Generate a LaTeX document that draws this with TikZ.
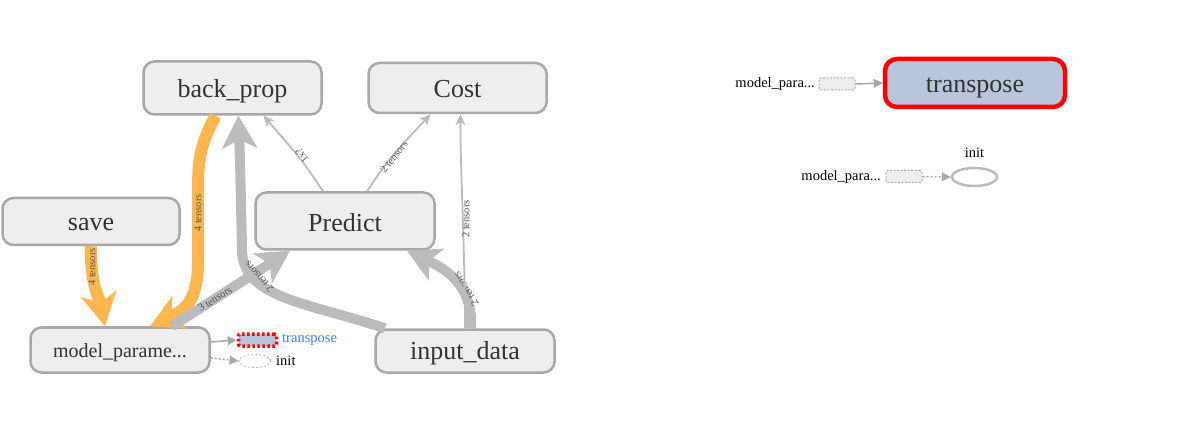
\documentclass[tikz,border=0pt]{standalone}
\usepackage{fontspec}
\setmainfont{Liberation Serif}
\usetikzlibrary{arrows.meta,shapes.geometric}
\definecolor{nfill}{HTML}{EEEEEE}
\definecolor{nborder}{HTML}{A8A8A8}
\definecolor{ntext}{HTML}{333333}
\definecolor{eorange}{HTML}{FFB64F}
\definecolor{egray}{HTML}{BBBBBB}
\definecolor{lgray}{HTML}{555555}
\definecolor{tfill}{HTML}{B9C5DD}
\definecolor{tblue}{HTML}{3C7EF0}
\begin{document}
\begin{tikzpicture}[x=1pt,y=-1pt,
  mainbox/.style={draw=nborder, line width=2.5pt, fill=nfill, rounded corners=11pt,
    inner sep=0pt, text=ntext, font=\fontsize{26}{30}\selectfont, text depth=0pt, text height=20pt},
  bigtip/.style={-{Stealth[length=33pt,width=36pt,inset=9pt,line width=0pt]}},
  smalltip/.style={-{Stealth[length=11pt,width=10pt,inset=3pt,line width=0pt]}},
  tritip/.style={-{Triangle[length=9pt,width=9pt,line width=0pt]}},
  oedge/.style={draw=eorange, line width=12pt, bigtip},
  gedge/.style={draw=egray, line width=10pt, bigtip},
  tedge/.style={draw=egray, line width=1.8pt, smalltip},
  elabel/.style={text=lgray, font=\fontsize{10.5}{12}\selectfont, inner sep=0pt},
  slabel/.style={text=black, font=\fontsize{14.5}{16}\selectfont, inner sep=0pt},
  stub/.style={draw=nborder, dashed, dash pattern=on 2pt off 1.5pt, line width=1pt, fill=nfill,
    rounded corners=2pt, minimum width=36pt, minimum height=12pt, inner sep=0pt},
]
\useasboundingbox (0,0) rectangle (1185,435);

% ---------- main graph nodes ----------
\node[mainbox, minimum width=178pt, minimum height=53pt] (bp) at (232.5,88) {back\_prop};
\node[mainbox, minimum width=178pt, minimum height=50pt] (cost) at (457.5,88) {Cost};
\node[mainbox, minimum width=179pt, minimum height=57pt, text height=21pt] (pred) at (345,221) {Predict};
\node[mainbox, minimum width=177pt, minimum height=47pt, text height=18pt] (save) at (91,221.5) {save};
\node[mainbox, minimum width=179pt, minimum height=45pt, text height=15.5pt, font=\fontsize{20}{24}\selectfont] (mp) at (120,350) {model\_parame...};
\node[mainbox, minimum width=179pt, minimum height=43pt, text height=16.5pt] (in) at (465,351) {input\_data};

% small attached nodes
\node[draw=red, line width=3.5pt, dash pattern=on 2.5pt off 2.5pt, fill=tfill, rounded corners=2pt,
  minimum width=38pt, minimum height=12pt, inner sep=0pt] (ts) at (257.5,340) {};
\node[slabel, text=tblue, anchor=west] (tsl) at (282,340) {transpose};
\node[ellipse, draw=egray, dashed, dash pattern=on 2pt off 2pt, line width=1pt,
  minimum width=32pt, minimum height=13pt, inner sep=0pt] (ini) at (255,361) {};
\node[slabel, anchor=west] (inil) at (276,361) {init};

% ---------- edges ----------
% save -> model_parameters
\draw[oedge] (save.south) .. controls (90,285) and (100,300) .. ([xshift=-15pt]mp.north);
\node[elabel, rotate=90] (l1) at (92,267) {4 tensors};

% back_prop -> model_parameters
\draw[oedge] ([xshift=-17pt]bp.south) .. controls (200,145) and (198,160) .. (198,190)
  -- (198,262) .. controls (198,300) and (185,310) .. ([xshift=30pt]mp.north);
\node[elabel, rotate=90] (l2) at (198,213) {4 tensors};

% model_parameters -> Predict
\draw[gedge] ([xshift=52pt]mp.north) -- ([xshift=-55pt]pred.south);
\node[elabel, rotate=32] (l3) at (215,299) {3 tensors};

% input_data -> back_prop
\draw[gedge] ([xshift=-80pt]in.north) .. controls (305,302) and (243,298) .. (242,250)
  .. controls (241,200) and (240,160) .. ([xshift=6pt]bp.south);
\node[elabel, rotate=132] (l4) at (259,277) {2 tensors};

% input_data -> Predict
\draw[gedge] ([xshift=6pt]in.north) .. controls (473,290) and (452,272) .. ([xshift=62pt]pred.south);
\node[elabel, rotate=122] (l5) at (466,289) {2 tensors};

% input_data -> Cost
\draw[tedge] (in.north) .. controls (465,250) and (460,160) .. ([xshift=3pt]cost.south);
\node[elabel, rotate=90] (l6) at (466,219) {2 tensors};

% Predict -> back_prop
\draw[tedge] ([xshift=-22pt]pred.north) .. controls (302,160) .. ([xshift=31pt]bp.south);
\node[elabel, rotate=128] (l7) at (302,156) {1x?};

% Predict -> Cost
\draw[tedge] ([xshift=22pt]pred.north) .. controls (388,160) .. ([xshift=-27pt]cost.south);
\node[elabel, rotate=52] (l8) at (394,157) {2 tensors};

% model_parameters -> small transpose / init
\draw[draw=nborder, line width=1.5pt, tritip] ([yshift=8pt]mp.east) -- (ts.west);
\draw[draw=nborder, line width=1.5pt, dash pattern=on 2pt off 2pt, tritip] ([yshift=-8pt]mp.east) -- (ini.west);

% ---------- right panel ----------
\node[draw=red, line width=4.5pt, fill=tfill, rounded corners=12pt, minimum width=180pt,
  minimum height=48pt, inner sep=0pt, text=ntext, font=\fontsize{26}{30}\selectfont,
  text height=19.4pt, text depth=0pt] (bigt) at (975,83) {transpose};
\node[stub] (s1) at (837,84) {};
\node[slabel, anchor=east] (s1l) at (815,84) {model\_para...};
\draw[draw=nborder, line width=1.5pt, tritip] (s1.east) -- (bigt.west);

\node[ellipse, draw=egray, line width=2.5pt, minimum width=45pt, minimum height=18pt, inner sep=0pt] (bigi) at (974.5,177) {};
\node[slabel] (bigil) at (974.5,153) {init};
\node[stub] (s2) at (904,176.5) {};
\node[slabel, anchor=east] (s2l) at (881,177) {model\_para...};
\draw[draw=nborder, line width=1.5pt, dash pattern=on 2pt off 2pt, tritip] (s2.east) -- (bigi.west);
\end{tikzpicture}
\end{document}
